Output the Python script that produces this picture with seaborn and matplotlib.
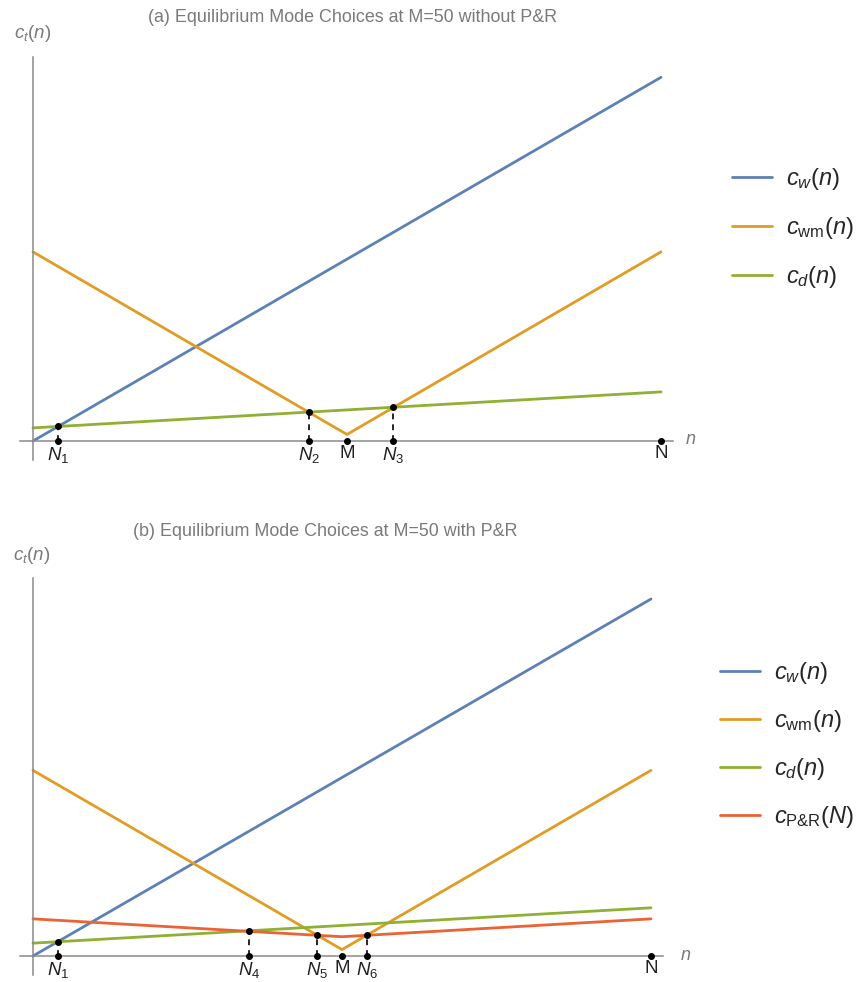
import numpy as np
import pandas as pd
import matplotlib
matplotlib.use("Agg")
import matplotlib.pyplot as plt
from matplotlib.lines import Line2D
from matplotlib.mathtext import MathTextParser
import seaborn as sns

# ---------------- data ----------------
n_knots = [0, 50, 100]
cw_vals = [0.0, 50.0, 100.0]
cwm_vals = [52.0, 1.8, 52.0]
cd_vals = [3.6, 8.55, 13.5]
cpr_vals = [10.4, 5.4, 10.4]

series_labels = [r"$c_w(n)$", r"$c_{\mathrm{wm}}(n)$", r"$c_d(n)$", r"$c_{\mathrm{P&R}}(N)$"]
series_colors = ["#5E81B5", "#E19C24", "#8FB032", "#EB6235"]

top_tick_labels = [r"$N_1$", r"$N_2$", "M", r"$N_3$", "N"]
top_tick_n = [4.0, 44.0, 50.0, 57.3, 100.0]
top_dot_curve = ["cd", "cd", None, "cd", None]

bot_tick_labels = [r"$N_1$", r"$N_4$", r"$N_5$", "M", r"$N_6$", "N"]
bot_tick_n = [4.0, 35.0, 45.9, 50.0, 54.1, 100.0]
bot_dot_curve = ["cd", "cd", "cpr", None, "cpr", None]

title_a = "(a) Equilibrium Mode Choices at M=50 without P&R"
title_b = "(b) Equilibrium Mode Choices at M=50 with P&R"

# ---------------- style ----------------
sns.set_style("white")
plt.rcParams["font.family"] = ["Liberation Sans", "DejaVu Sans"]
plt.rcParams["mathtext.fontset"] = "custom"
plt.rcParams["mathtext.rm"] = "Liberation Sans"
plt.rcParams["mathtext.it"] = "Liberation Sans:italic"
plt.rcParams["mathtext.bf"] = "Liberation Sans:bold"

# make sure the P&R label parses; fall back if not
try:
    MathTextParser("agg").parse(series_labels[3], 100)
except Exception:
    series_labels[3] = r"$c_{\mathrm{PR}}(N)$"

W, H = 861, 982
fig = plt.figure(figsize=(W / 100, H / 100), dpi=100)

curves = {"cw": cw_vals, "cwm": cwm_vals, "cd": cd_vals, "cpr": cpr_vals}
keys = ["cw", "cwm", "cd", "cpr"]


def px_axes(x0, y0, x1, y1):
    return fig.add_axes([x0 / W, 1 - y1 / H, (x1 - x0) / W, (y1 - y0) / H])


def panel(ax, nser, tick_labels, tick_n, dot_curve, xlim, ylim):
    rows = []
    for k in keys[:nser]:
        for n, v in zip(n_knots, curves[k]):
            rows.append({"n": n, "c": v, "series": k})
    df = pd.DataFrame(rows)
    pal = dict(zip(keys[:nser], series_colors[:nser]))
    sns.lineplot(data=df, x="n", y="c", hue="series", palette=pal, lw=2.0,
                 legend=False, ax=ax, sort=False)
    for n, lab, cv in zip(tick_n, tick_labels, dot_curve):
        ax.plot([n], [0], "o", color="black", ms=4, zorder=5, clip_on=False)
        if cv is not None:
            yv = np.interp(n, n_knots, curves[cv])
            ax.plot([n, n], [0, yv], color="black", lw=1.2, ls=(0, (3.5, 3)), zorder=4)
            ax.plot([n], [yv], "o", color="black", ms=4, zorder=5)
    ax.set_xlim(*xlim)
    ax.set_ylim(*ylim)
    ax.set_yticks([])
    ax.set_xlabel("")
    ax.set_ylabel("")
    for s in ["top", "right"]:
        ax.spines[s].set_visible(False)
    ax.spines["left"].set_position(("data", 0))
    ax.spines["bottom"].set_position(("data", 0))
    for s in ["left", "bottom"]:
        ax.spines[s].set_color("#8a8a8a")
        ax.spines[s].set_linewidth(1.1)
    ax.patch.set_alpha(0)
    ax.set_xticks(tick_n)
    ax.tick_params(axis="x", length=0, pad=3, labelsize=13.5, labelcolor="#222222")
    ax.set_xticklabels(tick_labels, fontsize=13.5, color="#222222")


# top panel: x 0 at px 33, 6.28 px/unit; y 0 at px 441, 3.637 px/unit
ax1 = px_axes(20, 57, 673, 460)
panel(ax1, 3, top_tick_labels, top_tick_n, top_dot_curve,
      (-13 / 6.28, 640 / 6.28), (-19 / 3.637, 384 / 3.637))

# bottom panel: x 0 at px 33, 6.18 px/unit; y 0 at px 956, 3.57 px/unit
ax2 = px_axes(20, 578, 663, 975)
panel(ax2, 4, bot_tick_labels, bot_tick_n, bot_dot_curve,
      (-13 / 6.18, 630 / 6.18), (-19 / 3.57, 378 / 3.57))

# titles, axis labels
grey = "#7a7a7a"
fig.text(148 / W, 1 - 18 / H, title_a, fontsize=12.9, color=grey, ha="left", va="center")
fig.text(133 / W, 1 - 532 / H, title_b, fontsize=12.9, color=grey, ha="left", va="center")
fig.text(33 / W, 1 - 34 / H, r"$c_t(n)$", fontsize=13.5, color=grey, ha="center", va="center")
fig.text(32 / W, 1 - 555 / H, r"$c_t(n)$", fontsize=13.5, color=grey, ha="center", va="center")
fig.text(691 / W, 1 - 440 / H, r"$n$", fontsize=13, color=grey, ha="center", va="center")
fig.text(686 / W, 1 - 955 / H, r"$n$", fontsize=13, color=grey, ha="center", va="center")

# legends
def make_legend(nser, x, ytop, spacing):
    handles = [Line2D([0], [0], color=c, lw=2.0) for c in series_colors[:nser]]
    fig.legend(handles, series_labels[:nser], loc="upper left",
               bbox_to_anchor=(x / W, 1 - ytop / H), frameon=False,
               fontsize=17, handlelength=1.7, handletextpad=0.6,
               labelspacing=spacing, borderpad=0, borderaxespad=0)

make_legend(3, 732, 166, 0.97)
make_legend(4, 720, 660, 0.93)

fig.savefig("out.png", dpi=100)
